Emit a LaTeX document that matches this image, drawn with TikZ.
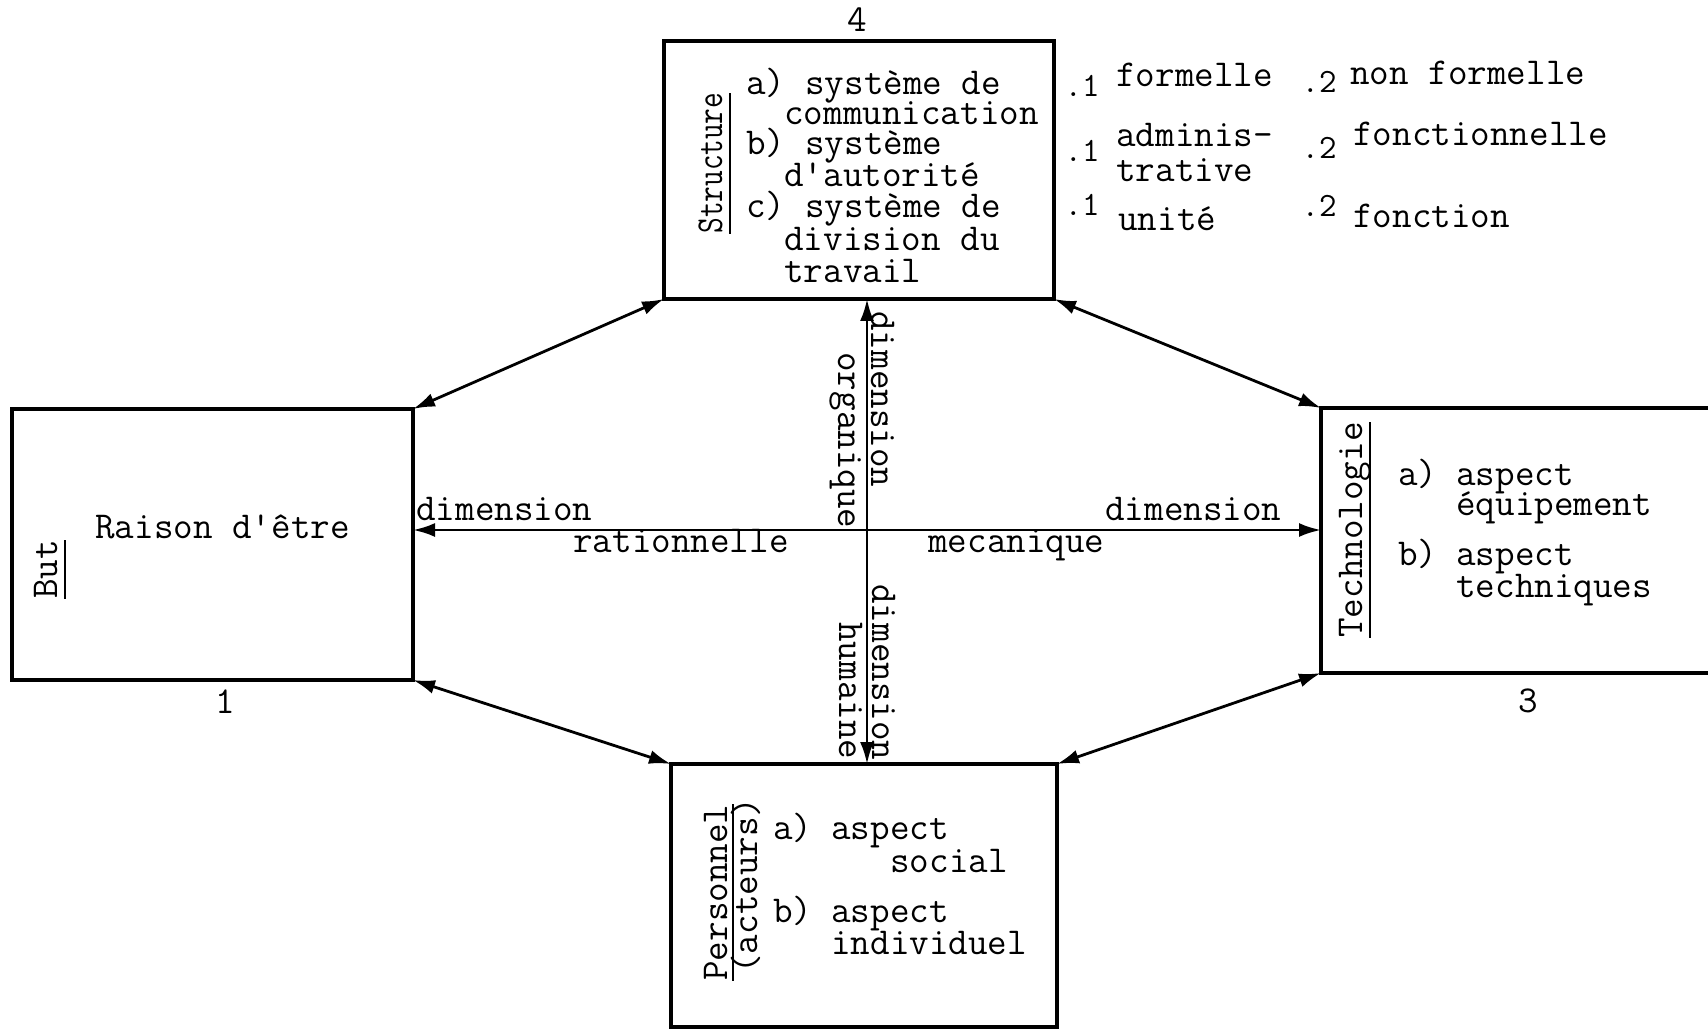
\documentclass[tikz,border=0pt]{standalone}
\usepackage{fontspec}
\usepackage{graphicx}
\usetikzlibrary{arrows.meta}
\newsavebox\ulsave
\newcommand\ulbox[2][4.5pt]{\sbox\ulsave{#2}\rlap{\rule[-#1]{\wd\ulsave}{1.1pt}}\usebox\ulsave}
\newcommand\twfont[1]{\ttfamily\fontsize{#1}{#1}\selectfont\addfontfeatures{FakeBold=0.8}}
\begin{document}
\begin{tikzpicture}[x=0.5pt,y=-0.5pt,
  box/.style={draw, line width=1.6pt, inner sep=0pt, outer sep=0pt},
  txt/.style={anchor=base west, inner sep=0pt, font=\twfont{19}},
  sub/.style={anchor=center, inner sep=0pt, font=\twfont{17}},
  numlab/.style={anchor=center, inner sep=0pt, font=\twfont{19}},
  rotl/.style={rotate=90, anchor=base west, inner sep=0pt, font=\twfont{19}},
  rotr/.style={rotate=-90, anchor=base west, inner sep=0pt, font=\twfont{19}},
  link/.style={line width=1.4pt, {Latex[length=11pt,width=7pt]}-{Latex[length=11pt,width=7pt]}},
]
\useasboundingbox (0,0) rectangle (1708,1032);
\clip (0,0) rectangle (1708,1032);
\fill[white] (0,0) rectangle (1708,1032);

% boxes
\node[box, minimum width=195pt, minimum height=129pt] (struct) at (859,170) {};
\node[box, minimum width=200.5pt, minimum height=135.5pt] (but) at (212.5,544.5) {};
\node[box, minimum width=219.5pt, minimum height=132.5pt] (tech) at (1540.5,540.5) {};
\node[box, minimum width=193pt, minimum height=131.5pt] (pers) at (864,895.5) {};

% connectors
\coordinate (c) at (867,530);
\draw[link] (struct.south west) -- (but.north east);
\draw[link] (struct.south east) -- (tech.north west);
\draw[link] (but.south east) -- (pers.north west);
\draw[link] (pers.north east) -- (tech.south west);
\draw[link] (c -| but.east) -- (c -| tech.west);
\draw[link] (c |- struct.south) -- (c |- pers.north);

% numbers
\node[numlab] (n4) at (857,20) {4};
\node[numlab] (n1) at (225,702) {1};
\node[numlab] (n3) at (1528,701) {3};

% Structure box
\node[rotl] (slab) at (722,234) {\ulbox{\scalebox{0.8}[1]{Structure}}};
\node[txt] (sa) at (746,95) {a)};
\node[txt] (sa1) at (805,95) {système de};
\node[txt] (sa2) at (784,125) {communication};
\node[txt] (sb) at (746,155) {b)};
\node[txt] (sb1) at (805,155) {système};
\node[txt] (sb2) at (784,187) {d'autorité};
\node[txt] (sc) at (746,218) {c)};
\node[txt] (sc1) at (805,218) {système de};
\node[txt] (sc2) at (784,251) {division du};
\node[txt] (sc3) at (784,283) {travail};

% right list
\node[sub] (p11) at (1082,86) {.1};
\node[txt] (w11) at (1116,87) {formelle};
\node[sub] (p12) at (1319,82) {.2};
\node[txt] (w12) at (1350,85) {non formelle};
\node[sub] (p21) at (1082,151) {.1};
\node[txt] (w21) at (1116,147) {adminis-};
\node[txt] (w21b) at (1116,182) {trative};
\node[sub] (p22) at (1319,148) {.2};
\node[txt] (w22) at (1353,146) {fonctionnelle};
\node[sub] (p31) at (1082,205) {.1};
\node[txt] (w31) at (1118,231) {unité};
\node[sub] (p32) at (1319,206) {.2};
\node[txt] (w32) at (1353,228) {fonction};

% But box
\node[rotl] (blab) at (57,599) {\ulbox{But}};
\node[txt] (raison) at (95,538) {Raison d'être};

% Technologie box
\node[rotl] (tlab) at (1362,638) {\ulbox{Technologie}};
\node[txt] (ta) at (1398,485) {a)};
\node[txt] (ta1) at (1456,485) {aspect};
\node[txt] (ta2) at (1456,515) {équipement};
\node[txt] (tb) at (1398,565) {b)};
\node[txt] (tb1) at (1456,565) {aspect};
\node[txt] (tb2) at (1456,597) {techniques};

% Personnel box
\node[rotl] (plab) at (727,981) {\ulbox[3.5pt]{Personnel}};
\node[rotl] (plab2) at (757,974) {(acteurs)};
\node[txt] (pa) at (773,839) {a)};
\node[txt] (pa1) at (831,839) {aspect};
\node[txt] (pa2) at (890,872) {social};
\node[txt] (pb) at (773,922) {b)};
\node[txt] (pb1) at (831,922) {aspect};
\node[txt] (pb2) at (831,954) {individuel};

% axis labels
\node[txt] (dl) at (416,520) {dimension};
\node[txt] (rat) at (573,552) {rationnelle};
\node[txt] (dr) at (1105,520) {dimension};
\node[txt] (mec) at (928,552) {mecanique};
\node[rotr] (du) at (871,311) {dimension};
\node[rotr] (org) at (838,352) {organique};
\node[rotr] (dd) at (872,584) {dimension};
\node[rotr] (hum) at (839,622) {humaine};
\end{tikzpicture}
\end{document}
